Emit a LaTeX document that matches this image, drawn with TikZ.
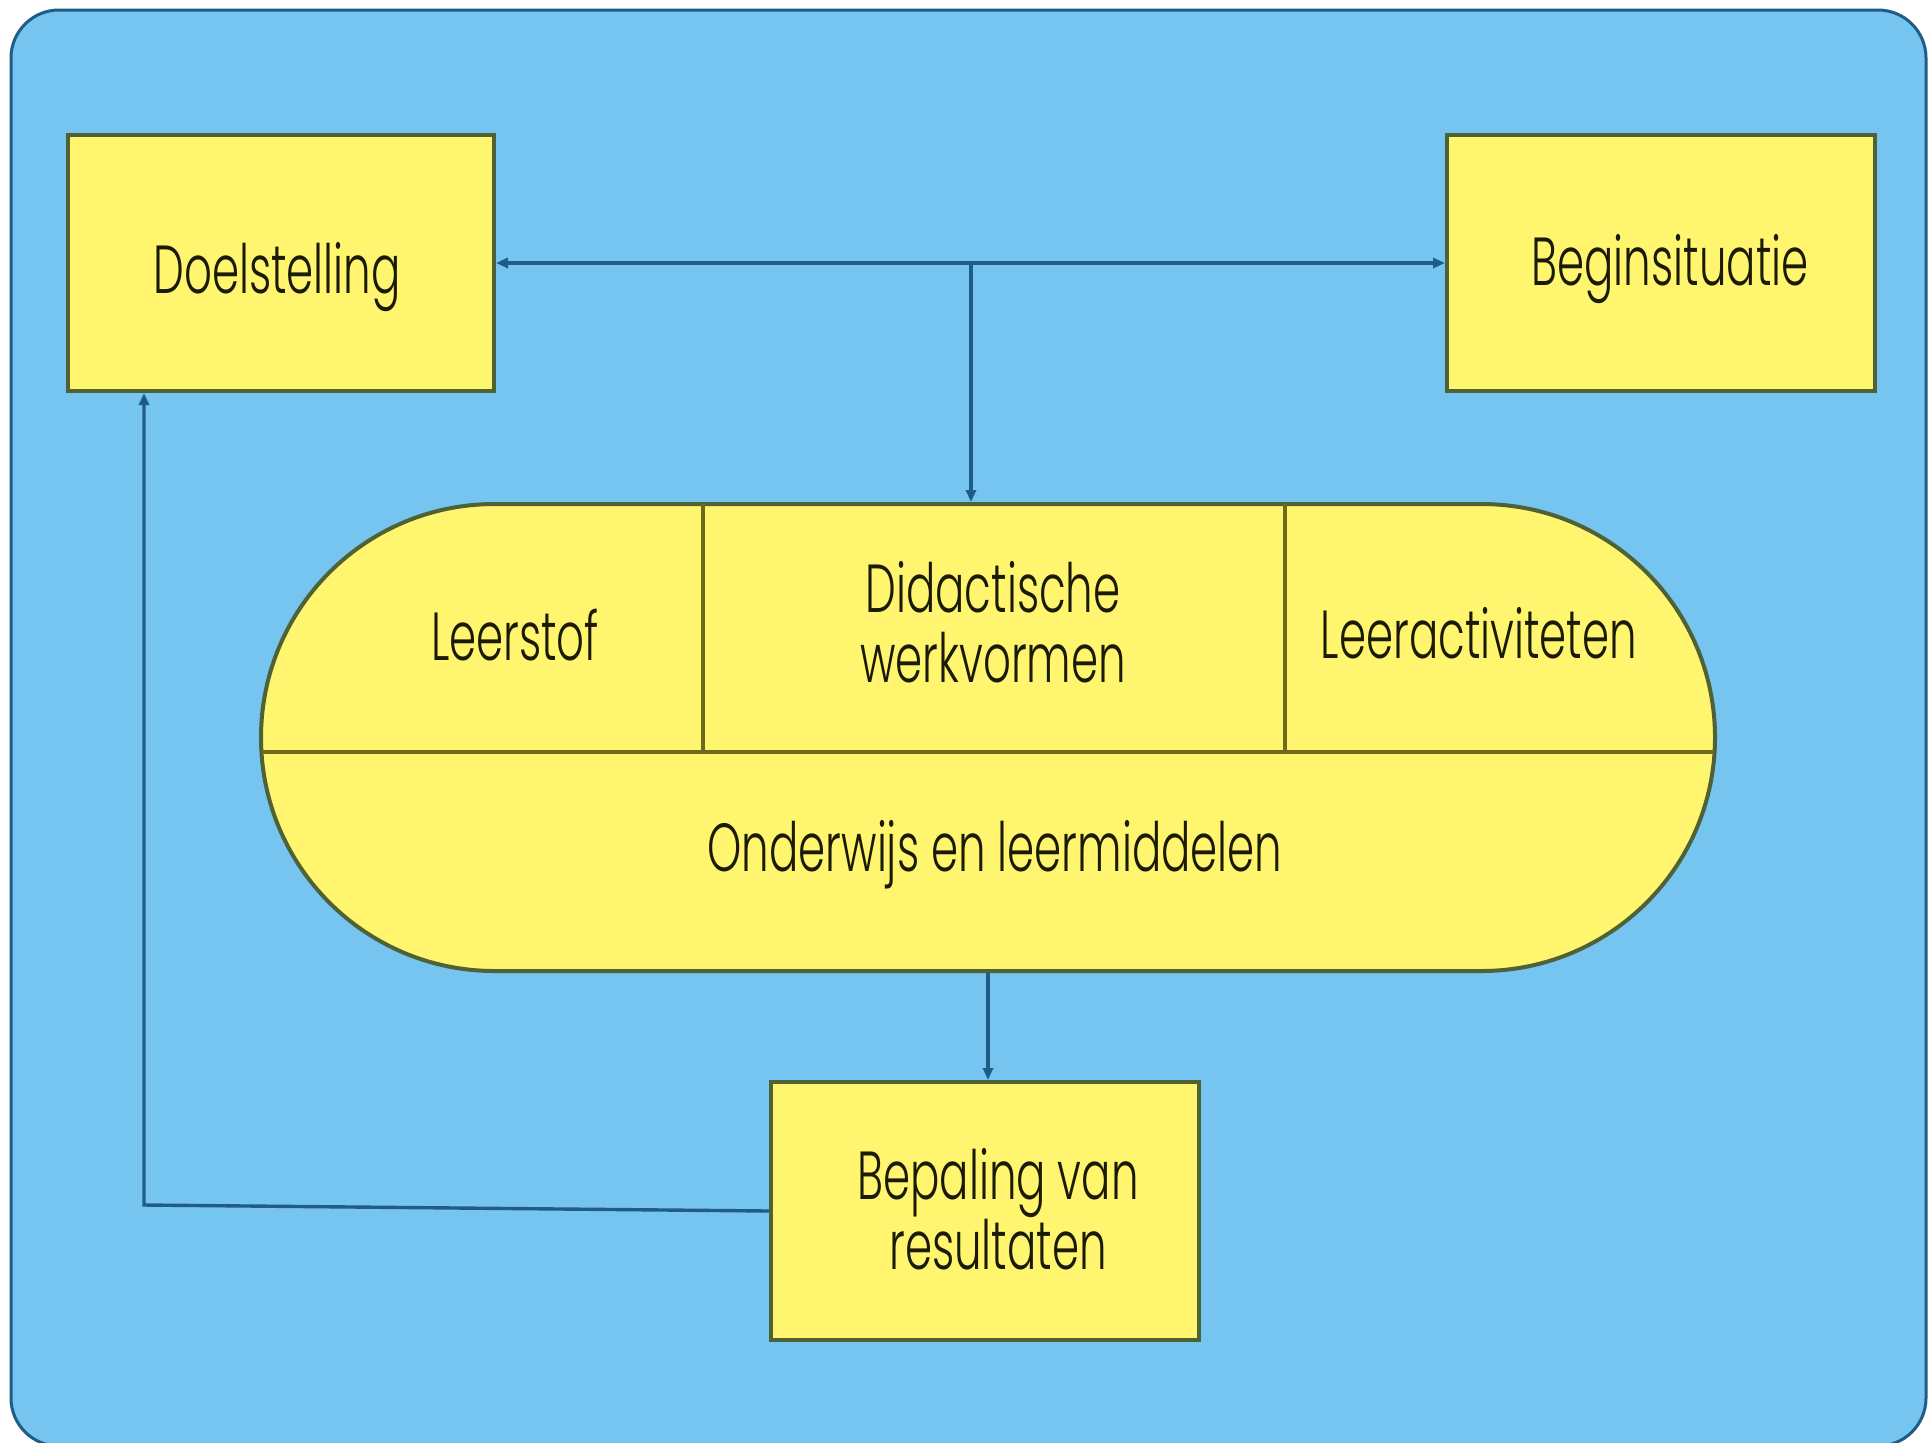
\documentclass[tikz,border=0pt]{standalone}
\usepackage{fontspec}
\setmainfont{Poppins}[UprightFont={* Light}, FakeStretch=0.64]
\usetikzlibrary{arrows.meta}
\definecolor{bgblue}{HTML}{76C4F0}
\definecolor{edgeblue}{HTML}{1F5C86}
\definecolor{boxyellow}{HTML}{FFF56E}
\definecolor{boxedge}{HTML}{4E6236}
\definecolor{divline}{HTML}{6E6A1C}
\definecolor{txt}{HTML}{1A1A05}
\tikzset{
  ybox/.style={draw=boxedge, line width=2pt, fill=boxyellow, inner sep=0pt},
  lbl/.style={text=txt, font=\fontsize{34}{34}\selectfont, inner sep=0pt, anchor=base},
  conn/.style={draw=edgeblue, line width=1.7pt, arrows={-Triangle[length=6pt,width=5pt,fill=edgeblue!60!black]}},
  both/.style={arrows={Triangle[length=6pt,width=5pt,fill=edgeblue!60!black]-Triangle[length=6pt,width=5pt,fill=edgeblue!60!black]}},
  divide/.style={draw=divline, line width=1.6pt}
}
\begin{document}
\begin{tikzpicture}[x=0.5pt,y=-0.5pt]
\useasboundingbox (0,0) rectangle (1928,1442);
\fill[white] (0,0) rectangle (1928,1442);
\draw[edgeblue, line width=1.5pt, fill=bgblue, rounded corners=24pt] (11,10) rectangle (1926,1446);

% boxes
\node[ybox, minimum width=213pt, minimum height=128pt] (doel) at (281,263) {};
\node[ybox, minimum width=214pt, minimum height=128pt] (begin) at (1661,263) {};
\node[ybox, minimum width=214pt, minimum height=129pt] (bep) at (985,1211) {};
\node[ybox, rounded corners=116.75pt, minimum width=727pt, minimum height=233.5pt] (core) at (988,737.5) {};

% dividers in the stadium
\coordinate (hl) at (262,752);
\coordinate (hr) at (1714,752);
\coordinate (v1t) at (703,504);
\coordinate (v2t) at (1285,504);
\draw[divide] (hl) -- (hr);
\draw[divide] (v1t) -- (v1t |- hl);
\draw[divide] (v2t) -- (v2t |- hl);

% labels
\node[lbl] (tdoel) at (277,293) {Doelstelling};
\node[lbl] (tbegin) at (1670,285) {Beginsituatie};
\node[lbl] (tleer) at (515,660) {Leerstof};
\node[lbl] (tdid1) at (993,612) {Didactische};
\node[lbl] (tdid2) at (993,682) {werkvormen};
\node[lbl] (tact) at (1479,658) {Leeractiviteten};
\node[lbl] (tond) at (995,871) {Onderwijs en leermiddelen};
\node[lbl] (tbep1) at (998,1199) {Bepaling van};
\node[lbl] (tbep2) at (998,1269) {resultaten};

% connectors
\coordinate (j) at (971,263);
\coordinate (fb) at (144,1205);
\draw[conn, both] (doel) -- (begin);
\draw[conn] (j) -- (j |- core.north);
\draw[conn] (core.south) -- (core.south |- bep.north);
\draw[conn] (bep.west) -- (fb) -- (fb |- doel.south);
\end{tikzpicture}
\end{document}
